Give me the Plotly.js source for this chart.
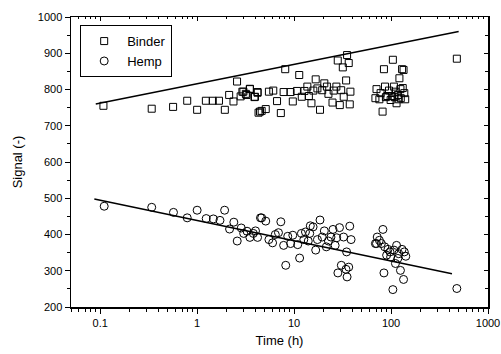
<!DOCTYPE html>
<html>
<head>
<meta charset="utf-8">
<script src="https://cdn.plot.ly/plotly-3.0.1.min.js"></script>
<style>html,body{margin:0;padding:0;background:#fff;}#chart{width:501px;height:354px;}</style>
</head>
<body>
<div id="chart"></div>
<script>
// Binder data: time (h) and signal
const binderTime = [0.108,0.34,0.565,0.79,1.0,1.23,1.45,1.68,1.93,2.14,2.37,2.58,2.81,3.0,3.23,3.5,3.95,4.2,4.45,
  2.93,3.18,3.5,3.9,4.2,4.3,4.63,5.1,5.5,6.1,6.67,7.3,8.1,7.8,9.2,9.7,10.7,11.3,12.0,12.8,13.7,14.2,15.1,15.8,16.7,17.4,18.5,19.5,20.5,21.8,22.6,24.9,25.6,27.3,28.2,29.6,30.6,31.8,32.5,34.4,35.2,36.6,37.5,38.1,
  69,70.8,75.8,78,81.8,84.5,86.6,88.5,91.6,95.2,99,102,104.4,107,108.6,111,114,117.5,120,122,125,126,130,132,134.6,137,140,477];
const binderSignal = [755,747,752,769,744,769,769,769,744,785,767,822,781,794,785,801,780,791,739,
  794,788,802,779,793,736,741,746,794,797,768,735,856,793,793,767,796,840,780,796,808,782,762,797,828,803,744,798,817,808,788,764,797,808,880,757,798,861,780,825,895,873,759,794,
  776,801,773,790,739,856,808,779,782,797,771,782,882,808,779,794,762,785,773,831,801,776,856,804,854,790,773,885];

// Hemp data: time (h) and signal
const hempTime = [0.11,0.34,0.57,0.79,1.0,1.24,1.47,1.72,1.92,2.16,2.39,2.59,2.85,3.02,3.27,3.5,3.8,4.0,4.2,4.5,
  4.63,5.1,5.5,6.0,6.4,6.9,7.3,7.8,8.2,8.6,9.2,9.7,10.9,11.4,11.9,12.6,13.1,14.0,14.5,14.7,15.7,16.7,17.4,18.5,19.5,20.5,21.5,22.6,24.0,25.2,26.5,27.5,28.3,29.4,30.7,32.4,34.3,34.8,35.2,36.6,37.5,38.7,
  69,70.8,72,75.8,79.4,82.5,84.5,86,90,93,97.6,99,104.4,107,111,114,117.5,120,125,130,134.6,137,142,477];
const hempSignal = [478,475,461,446,467,444,443,439,467,415,434,382,418,403,409,392,403,410,392,446,
  446,437,386,377,400,405,435,370,315,395,375,398,372,335,403,386,407,382,403,424,421,357,386,440,393,410,366,382,393,414,370,391,294,419,315,393,304,352,283,310,423,386,
  375,375,393,384,375,414,294,366,343,359,352,338,248,357,320,370,334,347,301,359,276,352,340,251];

// Fit lines (end points)
const binderFitTime = [0.09, 498];
const binderFitSignal = [760, 960];
const hempFitTime = [0.087, 425];
const hempFitSignal = [498, 292];

const seriesNames = ['Binder', 'Hemp'];
const xTickVals = [0.1, 1, 10, 100, 1000];
const xTickText = ['0.1', '1', '10', '100', '1000'];
const yTickVals = [200, 300, 400, 500, 600, 700, 800, 900, 1000];

const xMinor = [];
for (let e = -2; e < 3; e++) for (let d = 2; d <= 9; d++) { const v = d * Math.pow(10, e); if (v > 0.05 && v < 1000) xMinor.push(v); }
xMinor.push(0.05);

const font = 'Liberation Sans, Arial, sans-serif';

const traces = [
  {x: binderTime, y: binderSignal, type: 'scatter', mode: 'markers', name: seriesNames[0],
   marker: {symbol: 'square-open', size: 7, color: '#000', line: {width: 1, color: '#000'}}},
  {x: hempTime, y: hempSignal, type: 'scatter', mode: 'markers', name: seriesNames[1],
   marker: {symbol: 'circle-open', size: 8, color: '#000', line: {width: 1, color: '#000'}}},
  {x: binderFitTime, y: binderFitSignal, type: 'scatter', mode: 'lines', showlegend: false,
   line: {color: '#000', width: 1.5}},
  {x: hempFitTime, y: hempFitSignal, type: 'scatter', mode: 'lines', showlegend: false,
   line: {color: '#000', width: 1.5}}
];

const xr = [Math.log10(0.05), 3];
const yr = [200, 1000];

const layout = {
  width: 501, height: 354,
  margin: {l: 71, r: 13, t: 17, b: 47},
  paper_bgcolor: '#fff', plot_bgcolor: '#fff',
  font: {family: font, size: 11, color: '#000'},
  showlegend: true,
  legend: {x: 0.022, y: 0.972, xanchor: 'left', yanchor: 'top',
    bordercolor: '#000', borderwidth: 1, bgcolor: '#fff', itemwidth: 36,
    font: {family: font, size: 13, color: '#000'}, tracegroupgap: 0},
  xaxis: {type: 'log', range: xr, tickmode: 'array', tickvals: xTickVals, ticktext: xTickText,
    ticks: 'outside', ticklen: 5, tickwidth: 1, tickcolor: '#000',
    showline: true, linecolor: '#000', linewidth: 1.5, showgrid: false, zeroline: false,
    minor: {tickmode: 'array', tickvals: xMinor, ticks: 'outside', ticklen: 3, tickcolor: '#000', showgrid: false},
    title: {text: 'Time (h)', font: {family: font, size: 13, color: '#000'}, standoff: 8}},
  yaxis: {range: yr, tickmode: 'array', tickvals: yTickVals,
    ticks: 'outside', ticklen: 5, tickwidth: 1, tickcolor: '#000',
    showline: true, linecolor: '#000', linewidth: 1.5, showgrid: false, zeroline: false,
    minor: {dtick: 50, ticks: 'outside', ticklen: 3, tickcolor: '#000', showgrid: false},
    title: {text: 'Signal (-)', font: {family: font, size: 13, color: '#000'}, standoff: 12}},
  xaxis2: {type: 'log', range: xr, overlaying: 'x', side: 'top', anchor: 'y', tickmode: 'array', tickvals: xTickVals,
    showticklabels: false, ticks: 'inside', ticklen: 4, tickcolor: '#000',
    showline: true, linecolor: '#000', linewidth: 1.5, showgrid: false, zeroline: false,
    minor: {tickmode: 'array', tickvals: xMinor, ticks: 'inside', ticklen: 2, tickcolor: '#000', showgrid: false}},
  yaxis2: {range: yr, overlaying: 'y', side: 'right', anchor: 'x', tickmode: 'array', tickvals: yTickVals,
    showticklabels: false, ticks: 'inside', ticklen: 4, tickcolor: '#000',
    showline: true, linecolor: '#000', linewidth: 1.5, showgrid: false, zeroline: false,
    minor: {dtick: 50, ticks: 'inside', ticklen: 3, tickcolor: '#000', showgrid: false}}
};

// invisible trace to anchor the mirrored axes
traces.push({x: [0.1], y: [500], xaxis: 'x2', yaxis: 'y2', mode: 'markers', marker: {opacity: 0}, showlegend: false, hoverinfo: 'skip'});

Plotly.newPlot('chart', traces, layout, {staticPlot: true, displayModeBar: false});
</script>
</body>
</html>
